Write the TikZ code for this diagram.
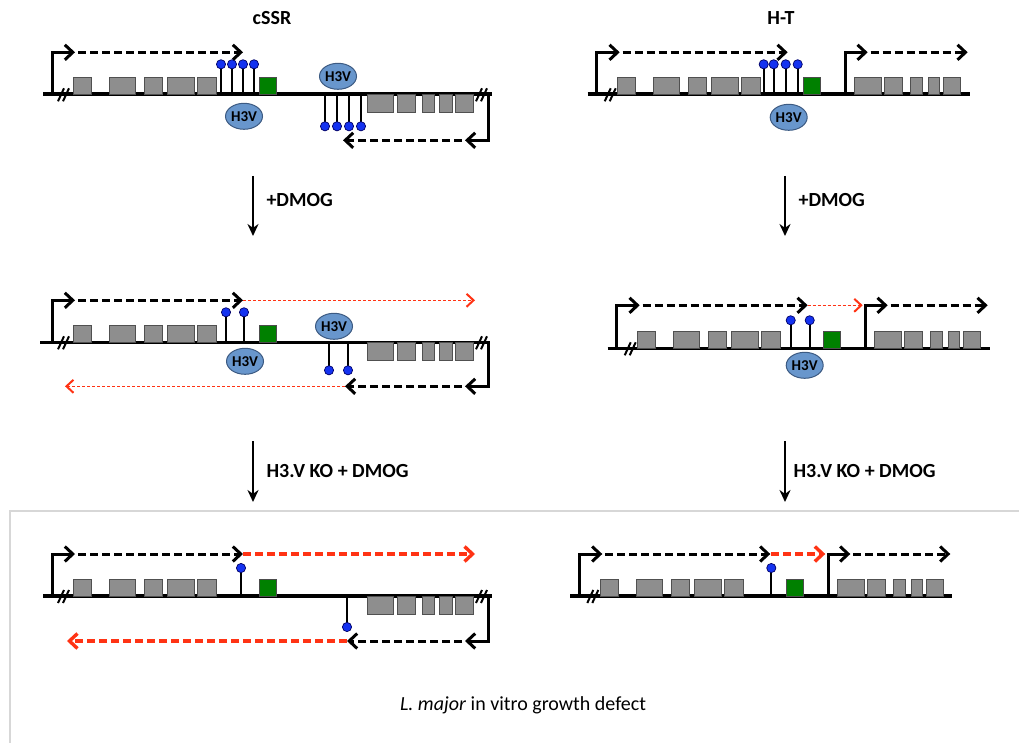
\documentclass[tikz,border=0pt]{standalone}
\usepackage{fontspec}
\setmainfont{Carlito}
\usepackage{tikz}
\usetikzlibrary{arrows.meta,shapes.geometric,positioning}

\definecolor{genegray}{RGB}{142,142,142}
\definecolor{geneedge}{RGB}{80,80,80}
\definecolor{markgreen}{RGB}{0,128,0}
\definecolor{pinblue}{RGB}{20,50,240}
\definecolor{histblue}{RGB}{104,150,204}
\definecolor{histedge}{RGB}{60,90,130}
\definecolor{rnared}{RGB}{255,51,20}
\definecolor{framegray}{RGB}{215,215,215}

\tikzset{
  chrom/.style={line width=3.6pt},
  prom/.style={line width=3pt, line join=miter, -{Straight Barb[length=8pt,width=15pt]}},
  txn/.style={line width=3pt, dash pattern=on 8pt off 4pt, -{Straight Barb[length=8pt,width=15pt]}},
  weaktxn/.style={rnared, line width=1.3pt, dash pattern=on 3pt off 2pt, -{Straight Barb[length=7pt,width=13pt,line width=2pt]}},
  redtxn/.style={rnared, line width=3.4pt, dash pattern=on 8pt off 4pt, -{Straight Barb[length=8pt,width=15pt]}},
  genebox/.style={fill=genegray, draw=geneedge, line width=1pt},
  greenbox/.style={fill=markgreen, draw=black!70, line width=1pt},
  stalk/.style={line width=2pt},
  pinhead/.style={fill=pinblue, draw=blue!40!black, line width=0.7pt},
  brkline/.style={line width=2pt},
  h3v/.style={ellipse, fill=histblue, draw=histedge, line width=1pt, minimum width=37pt, minimum height=26pt, inner sep=0pt, font=\fontsize{15}{15}\selectfont\bfseries},
  title/.style={font=\fontsize{20}{24}\selectfont\bfseries},
  stagearrow/.style={line width=2.4pt, -{Stealth[length=12pt,width=11pt]}},
  stagelabel/.style={font=\fontsize{20}{24}\selectfont\bfseries}
}

% five genes upstream of the strand switch
\newcommand{\leftgenes}{%
  \draw[genebox] (21,0) rectangle (39,-17);
  \draw[genebox] (57,0) rectangle (83,-17);
  \draw[genebox] (92,0) rectangle (110,-17);
  \draw[genebox] (115,0) rectangle (142,-17);
  \draw[genebox] (145,0) rectangle (164,-17);
  \draw[greenbox] (207,0) rectangle (224,-17);}
% genes on the bottom strand (cSSR)
\newcommand{\revgenes}{%
  \draw[genebox] (315,0) rectangle (341,18);
  \draw[genebox] (345,0) rectangle (363,18);
  \draw[genebox] (370,0) rectangle (382,18);
  \draw[genebox] (387,0) rectangle (400,18);
  \draw[genebox] (403,0) rectangle (421,18);}
% genes after the second promoter (H-T)
\newcommand{\nextgenes}{%
  \draw[genebox] (258,0) rectangle (285,-17);
  \draw[genebox] (288,0) rectangle (306,-17);
  \draw[genebox] (314,0) rectangle (326,-17);
  \draw[genebox] (332,0) rectangle (343,-17);
  \draw[genebox] (347,0) rectangle (364,-17);}
\newcommand{\brk}[1]{\draw[brkline] (#1-4,7) -- (#1+2,-6) (#1+1,7) -- (#1+7,-6);}
\newcommand{\lolly}[2]{\draw[stalk] (#1,0) -- (#1,#2); \filldraw[pinhead] (#1,#2) circle (4.6);}

\begin{document}
\begin{tikzpicture}[x=1pt,y=-1pt]
\useasboundingbox (0,0) rectangle (1019,743);

\node[title] (cssr) at (272,18) {cSSR};
\node[title] (htt) at (781,18) {H-T};

% cSSR, wild type
\begin{scope}[shift={(52,94.3)}]
\draw[chrom] (-9,0) -- (440,0);
\brk{10} \brk{428}
\draw[prom] (0,0) -- (0,-42) -- (23,-42);
\draw[txn] (26,-42) -- (191,-42);
\leftgenes
\lolly{169}{-30} \lolly{180}{-30} \lolly{191}{-30} \lolly{202}{-30}
\node[h3v] (h3va) at (192,22) {H3V};
\node[h3v] (h3vb) at (286,-18) {H3V};
\lolly{273}{32} \lolly{285}{32} \lolly{297}{32} \lolly{309}{32}
\revgenes
\draw[prom] (436,0) -- (436,46) -- (413,46);
\draw[txn] (410,46) -- (291,46);
\end{scope}

% H-T, wild type
\begin{scope}[shift={(596.7,94.3)}]
\draw[chrom] (-9,0) -- (373,0);
\brk{12}
\draw[prom] (0,0) -- (0,-42) -- (23,-42);
\draw[txn] (26,-42) -- (191,-42);
\leftgenes
\lolly{167}{-30} \lolly{177}{-30} \lolly{189}{-30} \lolly{201}{-30}
\node[h3v] (h3vc) at (192,23) {H3V};
\draw[prom] (249,0) -- (249,-42) -- (271,-42);
\draw[txn] (274,-42) -- (371,-42);
\nextgenes
\end{scope}

\coordinate (a1) at (253,176); \coordinate (b1) at (253,236);
\draw[stagearrow] (a1) -- (b1) node[stagelabel, pos=0.4, right=9pt] (dmoga) {+DMOG};
\coordinate (a2) at (785,176); \coordinate (b2) at (785,236);
\draw[stagearrow] (a2) -- (b2) node[stagelabel, pos=0.4, right=9pt] (dmogb) {+DMOG};

% cSSR, +DMOG
\begin{scope}[shift={(52,342.3)}]
\draw[chrom] (-12,0) -- (438,0);
\brk{10} \brk{428}
\draw[prom] (0,0) -- (0,-42) -- (23,-42);
\draw[txn] (26,-42) -- (191,-42);
\draw[weaktxn] (191,-42) -- (423,-42);
\leftgenes
\lolly{174}{-30} \lolly{192}{-30}
\node[h3v] (h3vd) at (193,19) {H3V};
\node[h3v] (h3ve) at (282,-16) {H3V};
\lolly{277}{28} \lolly{296}{28}
\revgenes
\draw[prom] (436,0) -- (436,44) -- (413,44);
\draw[txn] (410,44) -- (293,44);
\draw[weaktxn] (293,44) -- (13,44);
\end{scope}

% H-T, +DMOG
\begin{scope}[shift={(616.7,348.3)}]
\draw[chrom] (-9,0) -- (373,0);
\brk{12}
\draw[prom] (0,0) -- (0,-43) -- (23,-43);
\draw[txn] (26,-43) -- (191,-43);
\draw[weaktxn] (191,-43) -- (246,-43);
\leftgenes
\lolly{174}{-28} \lolly{193}{-28}
\node[h3v] (h3vf) at (188,17) {H3V};
\draw[prom] (249,0) -- (249,-43) -- (271,-43);
\draw[txn] (274,-43) -- (371,-43);
\nextgenes
\end{scope}

\coordinate (a3) at (253,441); \coordinate (b3) at (253,502);
\draw[stagearrow] (a3) -- (b3) node[stagelabel, midway, right=9pt] (koa) {H3.V KO + DMOG};
\coordinate (a4) at (785,441); \coordinate (b4) at (785,502);
\draw[stagearrow] (a4) -- (b4) node[stagelabel, midway, right=4pt] (kob) {H3.V KO + DMOG};

\draw[framegray, line width=2pt] (1019,511) -- (10,511) -- (10,743);

% cSSR, H3.V KO + DMOG
\begin{scope}[shift={(52,596)}]
\draw[chrom] (-9,0) -- (440,0);
\brk{10} \brk{428}
\draw[prom] (0,0) -- (0,-42) -- (23,-42);
\draw[txn] (26,-42) -- (191,-42);
\draw[redtxn] (191,-42) -- (423,-42);
\leftgenes
\lolly{189}{-28}
\lolly{295}{31}
\revgenes
\draw[prom] (436,0) -- (436,45) -- (413,45);
\draw[txn] (410,45) -- (295,45);
\draw[redtxn] (295,45) -- (15,45);
\end{scope}

% H-T, H3.V KO + DMOG
\begin{scope}[shift={(579.3,596)}]
\draw[chrom] (-9,0) -- (373,0);
\brk{12}
\draw[prom] (0,0) -- (0,-42) -- (23,-42);
\draw[txn] (26,-42) -- (191,-42);
\draw[redtxn] (192,-42) -- (246,-42);
\leftgenes
\lolly{192}{-28}
\draw[prom] (249,0) -- (249,-42) -- (271,-42);
\draw[txn] (274,-42) -- (371,-42);
\nextgenes
\end{scope}

\node[font=\fontsize{20}{24}\selectfont] (defect) at (523,705) {\textit{L. major} in vitro growth defect};
\end{tikzpicture}
\end{document}
